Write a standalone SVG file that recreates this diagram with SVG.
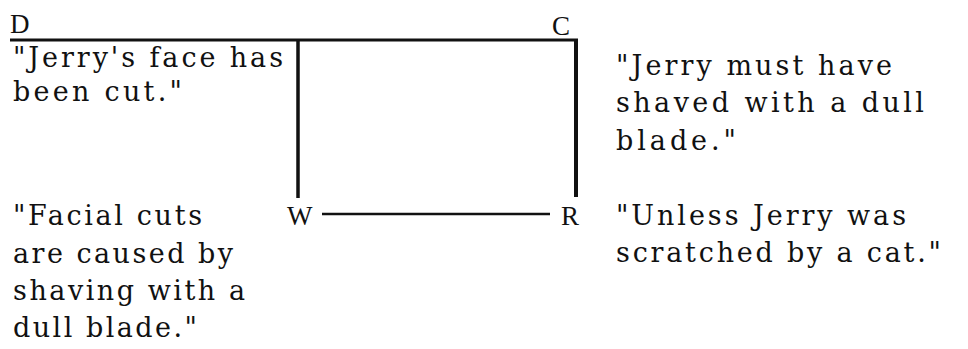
<svg xmlns="http://www.w3.org/2000/svg" width="968" height="349" viewBox="0 0 968 349">
<style>
.lbl{font-family:"Liberation Serif",serif;font-size:27px;fill:#111}
.txt{font-family:"DejaVu Serif","Liberation Serif",serif;font-size:27px;fill:#111}
.ln{stroke:#111;fill:none;stroke-linecap:butt}
</style>
<rect width="968" height="349" fill="#fff"/>
<g id="connectors">
<line class="ln" x1="10" y1="40" x2="578" y2="40" stroke-width="3"/>
<line class="ln" x1="298" y1="40" x2="298" y2="198" stroke-width="3.5"/>
<line class="ln" x1="576" y1="40" x2="576" y2="197" stroke-width="4"/>
<line class="ln" x1="322" y1="214" x2="550" y2="214" stroke-width="2.5"/>
</g>
<g id="node-D">
<text class="lbl" x="10" y="33">D</text>
<text class="txt" x="13" y="67" textLength="270" lengthAdjust="spacing">"Jerry's face has</text>
<text class="txt" x="13" y="101" textLength="169" lengthAdjust="spacing">been cut."</text>
</g>
<g id="node-C">
<text class="lbl" x="552" y="35">C</text>
<text class="txt" x="616" y="75" textLength="276" lengthAdjust="spacing">"Jerry must have</text>
<text class="txt" x="616" y="112" textLength="308" lengthAdjust="spacing">shaved with a dull</text>
<text class="txt" x="616" y="150" textLength="120" lengthAdjust="spacing">blade."</text>
</g>
<g id="node-W">
<text class="lbl" x="287" y="225">W</text>
<text class="txt" x="13" y="225" textLength="189" lengthAdjust="spacing">"Facial cuts</text>
<text class="txt" x="13" y="263" textLength="220" lengthAdjust="spacing">are caused by</text>
<text class="txt" x="13" y="300" textLength="232" lengthAdjust="spacing">shaving with a</text>
<text class="txt" x="13" y="337" textLength="184" lengthAdjust="spacing">dull blade."</text>
</g>
<g id="node-R">
<text class="lbl" x="561" y="225">R</text>
<text class="txt" x="616" y="225" textLength="290" lengthAdjust="spacing">"Unless Jerry was</text>
<text class="txt" x="616" y="262" textLength="325" lengthAdjust="spacing">scratched by a cat."</text>
</g>
</svg>
